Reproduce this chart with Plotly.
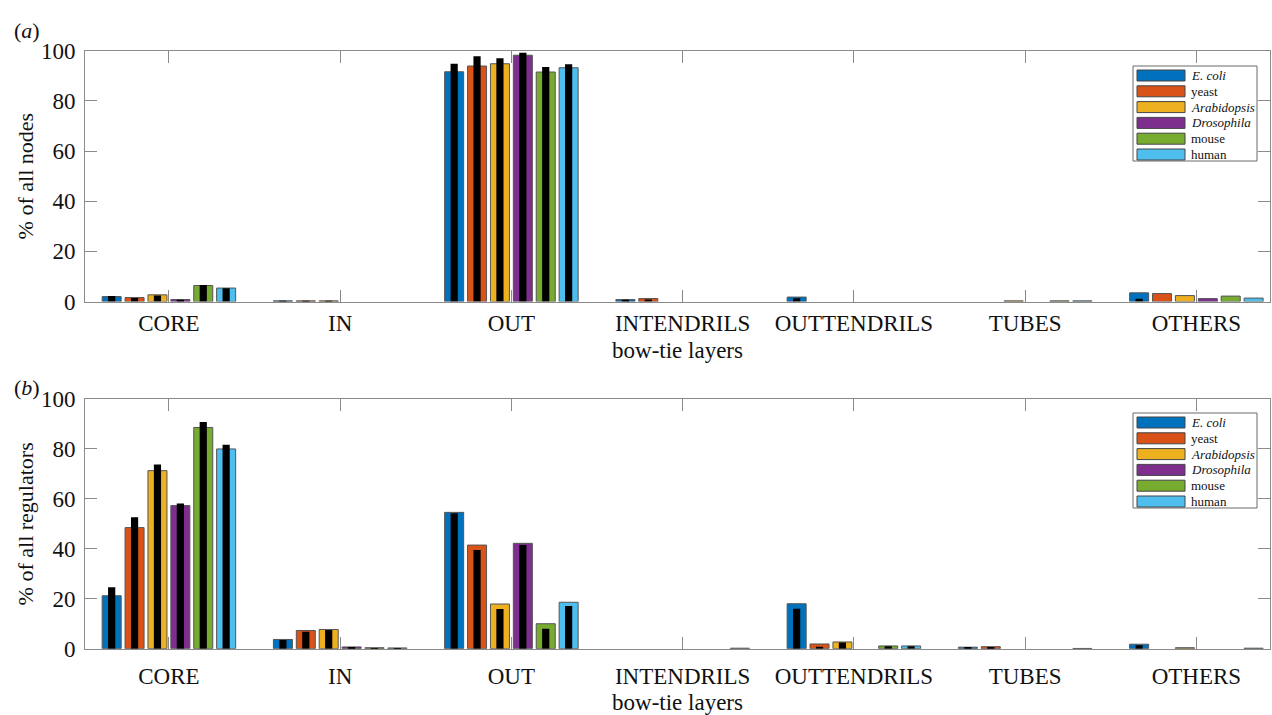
import plotly.graph_objects as go
from plotly.subplots import make_subplots

W, H = 1272, 715

categories = ["CORE", "IN", "OUT", "INTENDRILS", "OUTTENDRILS", "TUBES", "OTHERS"]
species = ["E. coli", "yeast", "Arabidopsis", "Drosophila", "mouse", "human"]
species_italic = [True, False, True, True, False, False]
colors = ["#0072BD", "#D95319", "#EDB120", "#7E2F8E", "#77AC30", "#4DBEEE"]

# (a) % of all nodes (coloured bars) and comparison values (black inner bars)
nodes_ecoli = [2.0, 0.3, 91.6, 0.8, 1.8, 0.0, 3.5]
nodes_yeast = [1.6, 0.3, 93.9, 1.2, 0.0, 0.0, 3.2]
nodes_arabidopsis = [2.7, 0.3, 94.8, 0.0, 0.0, 0.3, 2.4]
nodes_drosophila = [0.8, 0.0, 98.2, 0.0, 0.0, 0.0, 1.2]
nodes_mouse = [6.4, 0.0, 91.5, 0.0, 0.0, 0.3, 2.2]
nodes_human = [5.4, 0.0, 93.2, 0.0, 0.0, 0.3, 1.4]

nodes_ref_ecoli = [2.2, 0.2, 94.8, 0.7, 1.3, 0.0, 1.1]
nodes_ref_yeast = [1.4, 0.2, 97.8, 0.8, 0.0, 0.0, 0.0]
nodes_ref_arabidopsis = [2.4, 0.2, 97.0, 0.0, 0.0, 0.0, 0.0]
nodes_ref_drosophila = [0.7, 0.0, 99.2, 0.0, 0.0, 0.0, 0.0]
nodes_ref_mouse = [6.6, 0.0, 93.5, 0.0, 0.0, 0.0, 0.0]
nodes_ref_human = [5.3, 0.0, 94.6, 0.0, 0.0, 0.0, 0.0]

# (b) % of all regulators
reg_ecoli = [21.2, 3.7, 54.6, 0.0, 18.0, 0.6, 1.8]
reg_yeast = [48.5, 7.3, 41.5, 0.0, 1.9, 0.8, 0.0]
reg_arabidopsis = [71.3, 7.7, 17.9, 0.0, 2.7, 0.0, 0.4]
reg_drosophila = [57.3, 0.7, 42.2, 0.0, 0.0, 0.0, 0.0]
reg_mouse = [88.6, 0.4, 10.0, 0.0, 1.1, 0.0, 0.0]
reg_human = [80.0, 0.3, 18.6, 0.2, 1.1, 0.1, 0.2]

reg_ref_ecoli = [24.6, 3.5, 54.2, 0.0, 16.0, 0.5, 1.4]
reg_ref_yeast = [52.6, 6.8, 39.5, 0.0, 0.8, 0.5, 0.0]
reg_ref_arabidopsis = [73.8, 7.5, 15.9, 0.0, 2.5, 0.0, 0.0]
reg_ref_drosophila = [58.1, 0.3, 41.5, 0.0, 0.0, 0.0, 0.0]
reg_ref_mouse = [90.8, 0.2, 8.0, 0.0, 1.0, 0.0, 0.0]
reg_ref_human = [81.7, 0.1, 17.1, 0.0, 1.0, 0.0, 0.0]

y_ticks = [0, 20, 40, 60, 80, 100]

panel_a = [nodes_ecoli, nodes_yeast, nodes_arabidopsis, nodes_drosophila, nodes_mouse, nodes_human]
panel_a_ref = [nodes_ref_ecoli, nodes_ref_yeast, nodes_ref_arabidopsis, nodes_ref_drosophila,
               nodes_ref_mouse, nodes_ref_human]
panel_b = [reg_ecoli, reg_yeast, reg_arabidopsis, reg_drosophila, reg_mouse, reg_human]
panel_b_ref = [reg_ref_ecoli, reg_ref_yeast, reg_ref_arabidopsis, reg_ref_drosophila,
               reg_ref_mouse, reg_ref_human]

FONT = "Liberation Serif"
AX_COLOR = "#8a8a8a"
TXT = "#111111"
FS = 23


def nz(vals):
    return [v if v > 0 else None for v in vals]


fig = make_subplots(rows=2, cols=1)

spacing = 0.1337
bar_w = 0.111
inner_w = 0.042

for row, (vals, refs) in enumerate([(panel_a, panel_a_ref), (panel_b, panel_b_ref)], start=1):
    for i, name in enumerate(species):
        c = (i - 2.5) * spacing
        fig.add_trace(go.Bar(
            x=categories, y=nz(vals[i]), name=name, showlegend=False,
            offset=c - bar_w / 2, width=bar_w,
            marker=dict(color=colors[i], line=dict(color="#555555", width=1)),
        ), row=row, col=1)
    for i, name in enumerate(species):
        c = (i - 2.5) * spacing
        fig.add_trace(go.Bar(
            x=categories, y=nz(refs[i]), name=name + " ref", showlegend=False,
            offset=c - inner_w / 2, width=inner_w,
            marker=dict(color="#000000", line=dict(width=0)),
        ), row=row, col=1)


def px_x(p):
    return p / W


def px_y(p):
    return 1 - p / H


x_dom = [px_x(85), px_x(1270)]
y_dom_a = [px_y(301.6), px_y(50.7)]
y_dom_b = [px_y(648.7), px_y(399)]

axis_common = dict(
    showline=True, linecolor=AX_COLOR, linewidth=1, mirror="ticks",
    ticks="inside", ticklen=12, tickcolor=AX_COLOR, tickwidth=1,
    showgrid=False, zeroline=False, automargin=False,
    tickfont=dict(family=FONT, size=FS, color=TXT),
)

for r, ydom, ytitle, lab_off in [(1, y_dom_a, "% of all nodes", 1), (2, y_dom_b, "% of all regulators", 7)]:
    xa = "xaxis" if r == 1 else "xaxis2"
    ya = "yaxis" if r == 1 else "yaxis2"
    fig.layout[xa].update(
        domain=x_dom, range=[-0.49, 6.43], type="category",
        categoryorder="array", categoryarray=categories,
        ticklabelstandoff=lab_off,
        title=dict(text="bow-tie layers", font=dict(family=FONT, size=FS, color=TXT), standoff=6),
        **axis_common,
    )
    fig.layout[ya].update(
        domain=ydom, range=[0, 100], tickvals=y_ticks,
        ticklabelstandoff=4,
        title=dict(text=ytitle, font=dict(family=FONT, size=22, color=TXT), standoff=1),
        **axis_common,
    )

# panel labels
annotations = [
    dict(text="(<i>a</i>)", x=px_x(12), y=px_y(30), xref="paper", yref="paper",
         xanchor="left", yanchor="middle", showarrow=False,
         font=dict(family=FONT, size=22, color=TXT)),
    dict(text="(<i>b</i>)", x=px_x(12), y=px_y(387), xref="paper", yref="paper",
         xanchor="left", yanchor="middle", showarrow=False,
         font=dict(family=FONT, size=22, color=TXT)),
]
shapes = []

# custom legends (one per panel)
for top in (66, 413):
    left, right, bottom = 1133, 1257, top + 95
    shapes.append(dict(type="rect", xref="paper", yref="paper",
                       x0=px_x(left), x1=px_x(right), y0=px_y(bottom), y1=px_y(top),
                       line=dict(color="#6b6b6b", width=1), fillcolor="white"))
    for i, name in enumerate(species):
        yc = top + 9.5 + i * 15.8
        shapes.append(dict(type="rect", xref="paper", yref="paper",
                           x0=px_x(1137), x1=px_x(1185), y0=px_y(yc + 5.5), y1=px_y(yc - 5.5),
                           line=dict(color="#444444", width=1), fillcolor=colors[i]))
        label = f"<i>{name}</i>" if species_italic[i] else name
        annotations.append(dict(text=label, x=px_x(1189), y=px_y(yc), xref="paper", yref="paper",
                                xanchor="left", yanchor="middle", showarrow=False,
                                font=dict(family=FONT, size=13, color=TXT)))

fig.update_layout(
    width=W, height=H, margin=dict(l=0, r=0, t=0, b=0),
    paper_bgcolor="white", plot_bgcolor="white",
    barmode="overlay", showlegend=False,
    annotations=annotations, shapes=shapes,
    font=dict(family=FONT, color=TXT),
)

fig.write_html(
    "out.html",
    config={"displayModeBar": False},
    post_script="document.body.style.margin='0';document.body.style.overflow='hidden';",
)
